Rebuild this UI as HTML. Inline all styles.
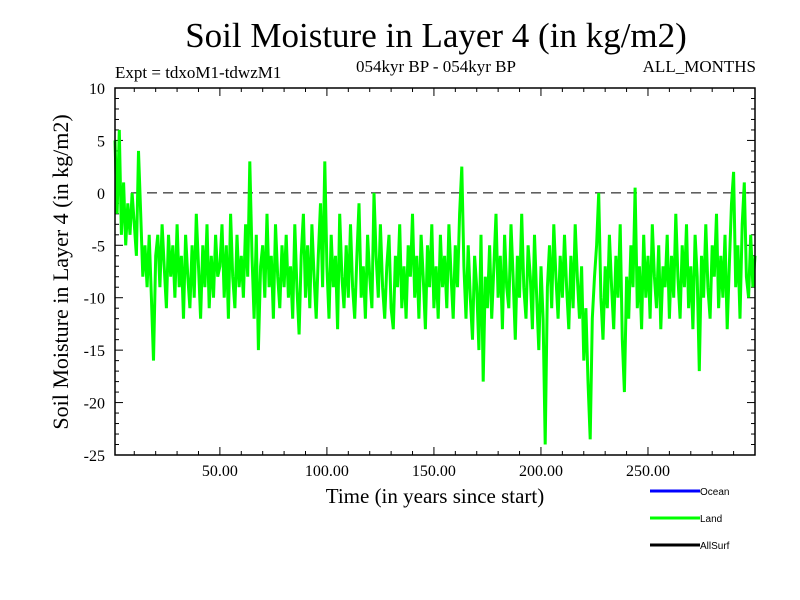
<!DOCTYPE html>
<html><head><meta charset="utf-8"><style>
body{margin:0;background:#fff;}
svg{display:block;font-family:"Liberation Serif",serif;}
</style></head><body>
<svg id="chart" width="800" height="600" xmlns="http://www.w3.org/2000/svg">
<text x="436" y="47" font-size="35" text-anchor="middle">Soil Moisture in Layer 4 (in kg/m2)</text>
<text x="115" y="78" font-size="17">Expt = tdxoM1-tdwzM1</text>
<text x="436" y="72" font-size="17" text-anchor="middle">054kyr BP - 054kyr BP</text>
<text x="756" y="72" font-size="17" text-anchor="end">ALL_MONTHS</text>
<text x="435" y="503" font-size="21" text-anchor="middle">Time (in years since start)</text>
<text transform="translate(68,272) rotate(-90)" font-size="22" text-anchor="middle">Soil Moisture in Layer 4 (in kg/m2)</text>
<g id="ticks"></g>
<g id="series"></g>
<rect x="115" y="88" width="640" height="367" fill="none" stroke="#000" stroke-width="1.5"/>
<g font-family="Liberation Sans,sans-serif" font-size="10">
<line x1="650" y1="491" x2="700" y2="491" stroke="#0000ff" stroke-width="3"/>
<text x="700" y="495">Ocean</text>
<line x1="650" y1="518" x2="700" y2="518" stroke="#00ff00" stroke-width="3"/>
<text x="700" y="522">Land</text>
<line x1="650" y1="545" x2="700" y2="545" stroke="#000" stroke-width="3"/>
<text x="700" y="549">AllSurf</text>
</g>
</svg>
<script>
const years0 = 1;
const landValues = [
5,-2,6,-4,1,-5,-1,-4,0,-3,
-6,4,-2,-8,-5,-9,-4,-10,-16,-6,
-4,-9,-3,-7,-11,-4,-8,-5,-10,-3,
-9,-6,-12,-4,-8,-11,-5,-10,-2,-7,
-12,-5,-9,-3,-11,-6,-10,-4,-8,-7,
-3,-10,-5,-12,-2,-8,-11,-4,-9,-6,
-10,-3,-8,3,-6,-12,-4,-15,-7,-5,
-10,-2,-9,-6,-12,-3,-8,-11,-5,-9,
-4,-10,-7,-12,-3,-9,-13.5,-6,-2,-10,
-5,-11,-3,-8,-12,-6,-1,-9,3,-7,
-12,-4,-9,-6,-13,-2,-8,-11,-5,-10,
-3,-9,-12,-6,-1,-10,-7,-12,-4,-8,
-11,0,-6,-10,-3,-9,-12,-7,-4,-11,
-13,-6,-9,-3,-11,-7,-12,-5,-8,-2,
-10,-6,-12,-4,-8,-13,-5,-9,-3,-11,
-7,-12,-4,-9,-6,-11,-3,-8,-12,-5,
-9,-2,2.5,-7,-12,-5,-10,-14,-6,-9,
-15,-4,-18,-8,-11,-5,-12,-7,-2,-10,
-6,-13,-4,-9,-11,-3,-8,-14,-6,-10,
-2,-9,-12,-5,-8,-13,-4,-10,-15,-7,
-12,-24,-9,-5,-11,-3,-8,-12,-6,-10,
-4,-9,-13,-6,-11,-3,-8,-12,-7,-16,
-11,-18,-23.5,-12,-8,-5,0,-10,-14,-7,
-11,-4,-9,-13,-6,-10,-3,-14,-19,-8,
-12,-5,-9,0.5,-11,-7,-13,-4,-10,-6,
-12,-3,-8,-11,-5,-13,-7,-9,-4,-12,
-6,-10,-2,-8,-12,-5,-9,-3,-11,-7,
-13,-4,-8,-17,-6,-10,-3,-9,-12,-5,
-8,-2,-11,-6,-10,-4,-13,-7,-1,2,
-9,-5,-12,-3,1,-8,-10,-4,-9,-6
];
const xTickLabels = [50,100,150,200,250];
const yTickLabels = [10,5,0,-5,-10,-15,-20,-25];
const xMin=1,xMax=300,yMin=-25,yMax=10;
const L=115,R=755,T=88,B=455;
function xs(v){return L+(v-xMin)/(xMax-xMin)*(R-L);}
function ys(v){return B-(v-yMin)/(yMax-yMin)*(B-T);}
const NS="http://www.w3.org/2000/svg";
const tg=document.getElementById('ticks');
function mk(tag,attrs,parent){const e=document.createElementNS(NS,tag);for(const k in attrs)e.setAttribute(k,attrs[k]);parent.appendChild(e);return e;}
for(let v=yMin;v<=yMax;v++){
  const y=ys(v);const len=(v%5===0)?8:4;
  const t1=mk('line',{x1:L,y1:y,x2:L+len,y2:y,stroke:'#000','stroke-width':1},tg);
  
  
  const t2=mk('line',{x1:R,y1:y,x2:R-len,y2:y,stroke:'#000','stroke-width':1},tg);
  
  
}
yTickLabels.forEach(v=>{
  const t=mk('text',{x:L-10,y:ys(v)+6,'font-size':16,'text-anchor':'end'},tg);
  t.textContent=String(v);
  
  
});
for(let v=10;v<=300;v+=10){
  const x=xs(v);const len=(v%50===0)?8:4;
  const t1=mk('line',{x1:x,y1:B,x2:x,y2:B-len,stroke:'#000','stroke-width':1},tg);
  
  
  const t2=mk('line',{x1:x,y1:T,x2:x,y2:T+len,stroke:'#000','stroke-width':1},tg);
  
  
}
xTickLabels.forEach(v=>{
  const t=mk('text',{x:xs(v),y:B+21,'font-size':16,'text-anchor':'middle'},tg);
  t.textContent=v.toFixed(2);
  
  
});
const zl=mk('line',{x1:L,y1:ys(0),x2:R,y2:ys(0),stroke:'#000','stroke-width':1,'stroke-dasharray':'10,6'},tg);


const sg=document.getElementById('series');
const pts=landValues.map((v,i)=>xs(years0+i).toFixed(1)+','+ys(v).toFixed(1)).join(' ');
const pl=mk('polyline',{points:pts,fill:'none',stroke:'#00ff00','stroke-width':3,'stroke-linejoin':'miter'},sg);


</script>
</body></html>
